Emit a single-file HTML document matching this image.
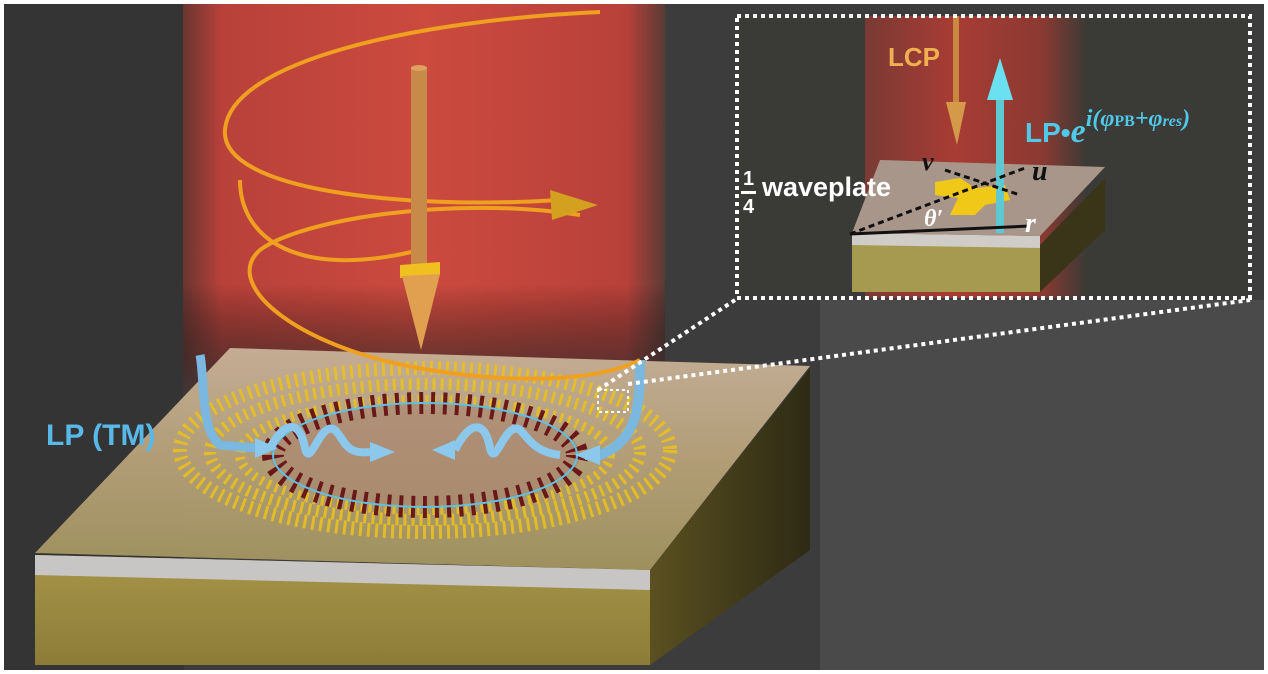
<!DOCTYPE html><html><head><style>body{margin:0;background:#fff}svg{display:block}.s{font-family:"Liberation Sans",sans-serif;font-weight:bold}.m{font-family:"Liberation Serif",serif;font-style:italic;font-weight:bold}</style></head><body>
<svg width="1268" height="674" viewBox="0 0 1268 674" xmlns="http://www.w3.org/2000/svg">
<defs>
<linearGradient id="beam" x1="0" x2="1"><stop offset="0" stop-color="#6a3530"/><stop offset=".08" stop-color="#b8413a"/><stop offset=".5" stop-color="#cc4a3e"/><stop offset=".92" stop-color="#b8413a"/><stop offset="1" stop-color="#5a3a35"/></linearGradient>
<linearGradient id="beamv" x1="0" y1="0" x2="0" y2="1"><stop offset=".7" stop-color="#000" stop-opacity="0"/><stop offset="1" stop-color="#3c3c3c" stop-opacity=".9"/></linearGradient>
<linearGradient id="top" x1="0" y1="0" x2="0" y2="1"><stop offset="0" stop-color="#c9b39a"/><stop offset=".5" stop-color="#b8a27a"/><stop offset="1" stop-color="#a3955f"/></linearGradient>
<linearGradient id="gold" x1="0" y1="0" x2="0" y2="1"><stop offset="0" stop-color="#a69548"/><stop offset="1" stop-color="#8c7c38"/></linearGradient>
<linearGradient id="side" x1="0" x2="1"><stop offset="0" stop-color="#5a5020"/><stop offset="1" stop-color="#2e2a14"/></linearGradient>
<linearGradient id="ib" x1="0" x2="1"><stop offset="0" stop-color="#7a3a34"/><stop offset=".4" stop-color="#a83c34"/><stop offset=".8" stop-color="#8a3a32"/><stop offset="1" stop-color="#3a3a36"/></linearGradient>
</defs>
<rect width="1268" height="674" fill="#fff"/>
<rect x="4" y="4" width="1260" height="666" fill="#3c3c3c"/>
<rect x="4" y="4" width="180" height="666" fill="#343434"/>
<rect x="820" y="300" width="444" height="370" fill="#4a4a4a"/>
<rect x="183" y="4" width="482" height="400" fill="url(#beam)"/>
<rect x="183" y="4" width="482" height="400" fill="url(#beamv)"/>
<polygon points="650,570 810,368 810,550 650,665" fill="url(#side)"/>
<polygon points="35,555 650,570 650,665 35,665" fill="url(#gold)"/>
<polygon points="35,555 650,570 650,590 35,575" fill="#c8c6c4"/>
<polygon points="35,553 230,348 810,366 650,570" fill="url(#top)" opacity=".95"/>
<ellipse cx="425" cy="450" rx="245" ry="82" fill="none" stroke="#e8c020" stroke-width="14" stroke-dasharray="3 5" opacity=".9"/>
<ellipse cx="425" cy="452" rx="215" ry="68" fill="none" stroke="#e8c020" stroke-width="12" stroke-dasharray="3 5" opacity=".9"/>
<ellipse cx="425" cy="455" rx="185" ry="55" fill="none" stroke="#e8c020" stroke-width="10" stroke-dasharray="3 5" opacity=".9"/>
<ellipse cx="425" cy="455" rx="155" ry="52" fill="#a88470" opacity=".6"/>
<ellipse cx="425" cy="455" rx="152" ry="52" fill="none" stroke="#6a1818" stroke-width="22" stroke-dasharray="4 8"/>
<ellipse cx="425" cy="455" rx="152" ry="52" fill="none" stroke="#5fc0e0" stroke-width="2"/>
<path d="M200,355 C205,380 200,430 220,445 L255,448" stroke="#7ab8e0" stroke-width="9" fill="none"/>
<path d="M640,360 C640,400 640,440 600,455 L585,455" stroke="#7ab8e0" stroke-width="10" fill="none"/>
<path d="M270,448 C285,420 300,420 305,448 C310,470 320,420 335,430 C345,440 345,455 370,452" stroke="#8cc8ec" stroke-width="8" fill="none"/>
<path d="M455,450 C470,420 485,420 490,448 C495,470 505,420 520,430 C530,440 535,452 560,455" stroke="#8cc8ec" stroke-width="8" fill="none"/>
<polygon points="255,438 278,448 255,458" fill="#8cc8ec"/>
<polygon points="370,442 395,452 370,462" fill="#8cc8ec"/>
<polygon points="455,440 432,450 455,460" fill="#8cc8ec"/>
<polygon points="600,445 575,455 600,465" fill="#8cc8ec"/>
<text class="s" x="46" y="445" font-size="30" fill="#58b8e8">LP (TM)</text>
<g fill="none" stroke="#f0a020" stroke-width="4">
<path d="M600,12 C420,20 230,60 225,130 C220,190 400,210 560,200"/>
<path d="M580,215 C450,195 300,220 260,250 C220,285 300,350 430,370 C520,385 600,380 640,360"/>
<path d="M240,180 C240,240 300,280 420,250"/>
</g>
<polygon points="550,190 598,205 552,220" fill="#d4a020"/>
<rect x="411" y="68" width="16" height="200" fill="#c88a48"/>
<ellipse cx="419" cy="68" rx="8" ry="3" fill="#e0a060"/>
<polygon points="400,265 440,262 440,275 400,278" fill="#f0c020"/>
<polygon points="402,276 440,274 421,350" fill="#e0a050"/>
<rect x="598" y="390" width="30" height="22" fill="none" stroke="#fff" stroke-width="2" stroke-dasharray="3 3"/>
<line x1="598" y1="390" x2="735" y2="300" stroke="#fff" stroke-width="4" stroke-dasharray="4 4"/>
<line x1="628" y1="384" x2="1250" y2="300" stroke="#fff" stroke-width="4" stroke-dasharray="4 4"/>
<rect x="737" y="16" width="513" height="282" fill="#3a3a37"/>
<rect x="865" y="16" width="222" height="282" fill="url(#ib)"/>
<polygon points="1040,245 1105,178 1105,230 1040,292" fill="#3a3418"/>
<polygon points="852,245 1040,245 1040,292 852,292" fill="#a69a50"/>
<polygon points="852,233 1040,236 1040,248 852,245" fill="#d0ccc8"/>
<polygon points="852,233 880,160 1105,167 1040,236" fill="#a8968a"/>
<polygon points="935,182 960,178 975,188 1005,185 1010,200 985,205 975,215 950,215 958,198 935,195" fill="#f0c818"/>
<rect x="953" y="16" width="6" height="88" fill="#c8883e"/>
<polygon points="946,102 966,102 957,145" fill="#d49a4a"/>
<rect x="996" y="95" width="8" height="138" fill="#60c8d0"/>
<polygon points="987,100 1000,58 1013,100" fill="#6ae0f0"/>
<line x1="850" y1="234" x2="1030" y2="226" stroke="#111" stroke-width="3"/>
<line x1="850" y1="234" x2="1025" y2="168" stroke="#111" stroke-width="3" stroke-dasharray="6 4"/>
<line x1="945" y1="170" x2="1020" y2="195" stroke="#111" stroke-width="3" stroke-dasharray="6 4"/>
<text class="s" x="888" y="66" font-size="26" fill="#f0b050">LCP</text>
<text class="s" x="1025" y="142" font-size="28" fill="#50c8e8">LP•<tspan class="m" font-size="34">e</tspan><tspan class="m" font-size="24" dy="-16">i(φ<tspan font-size="16" style="font-style:normal">PB</tspan>+φ<tspan font-size="16">res</tspan>)</tspan></text>
<text class="s" x="743" y="185" font-size="20" fill="#fff">1</text>
<rect x="741" y="191" width="15" height="3" fill="#fff"/>
<text class="s" x="743" y="213" font-size="20" fill="#fff">4</text>
<text class="s" x="762" y="196" font-size="27" fill="#fff">waveplate</text>
<text class="m" x="922" y="170" font-size="26" fill="#111">v</text>
<text class="m" x="1032" y="180" font-size="28" fill="#111">u</text>
<text class="m" x="924" y="226" font-size="24" fill="#fff">θ′</text>
<text class="m" x="1025" y="232" font-size="28" fill="#fff">r</text>
<rect x="737" y="16" width="513" height="282" fill="none" stroke="#fff" stroke-width="4" stroke-dasharray="4 4"/>
</svg>
</body></html>
